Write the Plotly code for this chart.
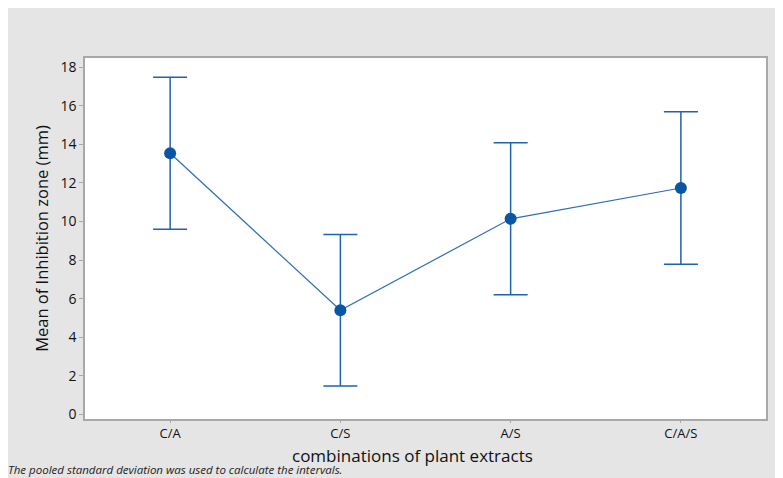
import plotly.graph_objects as go

categories = ["C/A", "C/S", "A/S", "C/A/S"]
means = [13.54, 5.40, 10.14, 11.74]
ci_half = [3.94, 3.93, 3.94, 3.95]
y_ticks = [0, 2, 4, 6, 8, 10, 12, 14, 16, 18]

BLUE = "#0B56A4"
GRAY_BG = "#E5E5E5"
AXIS = "#A8A8A8"
FONT = "Open Sans"

# page is offset by the 8px body margin
OFF = 8
W, H = 775, 470
L, R, T, B = 77, 17, 50, 59
pw, ph = W - L - R, H - T - B

fig = go.Figure()
fig.add_trace(go.Scatter(
    x=list(range(len(categories))), y=means,
    mode="lines+markers",
    line=dict(color="#2F6DB5", width=1.2),
    marker=dict(color=BLUE, size=12),
    error_y=dict(type="data", array=ci_half, visible=True,
                 color="#1F62AE", thickness=1.5, width=17),
    showlegend=False,
))

def px_x(p):
    return (p - OFF - L) / pw

def px_y(p):
    return (H - B - (p - OFF)) / ph

fig.add_annotation(
    text="combinations of plant extracts",
    xref="paper", yref="paper", x=px_x(412), y=px_y(455),
    xanchor="center", yanchor="middle", showarrow=False, borderpad=0,
    font=dict(family=FONT, size=17, color="#111111"),
)

fig.add_annotation(
    text="<i>The pooled standard deviation was used to calculate the intervals.</i>",
    xref="paper", yref="paper", x=px_x(7), y=px_y(478),
    xanchor="left", yanchor="bottom", showarrow=False, borderpad=0,
    font=dict(family=FONT, size=11.5, color="#222222"),
)

fig.update_layout(
    width=W, height=H,
    margin=dict(l=L, r=R, t=T, b=B),
    paper_bgcolor=GRAY_BG, plot_bgcolor="white",
    font=dict(family=FONT, color="#111111"),
    xaxis=dict(
        range=[-0.5, 3.5], tickmode="array",
        tickvals=list(range(len(categories))), ticktext=categories,
        showgrid=False, zeroline=False,
        showline=True, linecolor=AXIS, linewidth=1.5, mirror=True,
        ticks="outside", ticklen=2, tickcolor=AXIS,
        tickfont=dict(size=13, color="#111111"),
    ),
    yaxis=dict(
        range=[-0.24, 18.48], tickmode="array", tickvals=y_ticks,
        showgrid=False, zeroline=False,
        showline=True, linecolor=AXIS, linewidth=1.5, mirror=True,
        ticks="outside", ticklen=4, tickcolor=AXIS,
        tickfont=dict(size=14, color="#111111"),
        title=dict(text="Mean of Inhibition zone (mm)",
                   font=dict(size=16.5, color="#111111"), standoff=8),
    ),
)

fig.write_html("out.html")
